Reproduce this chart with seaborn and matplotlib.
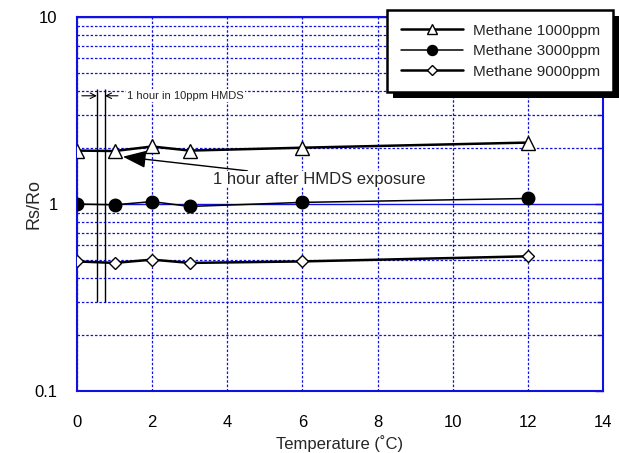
import numpy as np
import pandas as pd
import matplotlib
matplotlib.use("Agg")
import matplotlib.pyplot as plt
import matplotlib.ticker as mticker
from matplotlib.patches import Rectangle
import seaborn as sns

# data
temperature = [0, 1, 2, 3, 6, 12]
methane_1000 = [1.93, 1.92, 2.03, 1.93, 2.00, 2.13]
methane_3000 = [1.00, 0.99, 1.03, 0.97, 1.02, 1.07]
methane_9000 = [0.493, 0.484, 0.504, 0.484, 0.493, 0.525]
series_names = ["Methane 1000ppm", "Methane 3000ppm", "Methane 9000ppm"]
x_ticks = [0, 2, 4, 6, 8, 10, 12, 14]
y_ticks = [0.1, 1, 10]

sns.set_style("white")
plt.rcParams['font.family'] = ['Liberation Sans', 'DejaVu Sans']

BLUE = '#1010e0'

fig = plt.figure(figsize=(6.19, 4.53), dpi=100)
ax = fig.add_axes([0.1244, 0.1369, 0.974 - 0.1244, 0.9625 - 0.1369])

df = pd.DataFrame({'T': temperature, 'm1': methane_1000, 'm3': methane_3000, 'm9': methane_9000})

# (column, marker, face colour, line width, marker size)
styles = [
    ('m1', '^', 'white', 1.8, 9.5),
    ('m3', 'o', 'black', 1.1, 9),
    ('m9', 'D', 'white', 1.8, 6.5),
]
for (col, mk, mfc, lw, ms), name in zip(styles, series_names):
    sns.lineplot(data=df, x='T', y=col, ax=ax, color='black', lw=lw, marker=mk,
                 markersize=ms, markerfacecolor=mfc, markeredgecolor='black',
                 markeredgewidth=1.0, label=name, zorder=5)

ax.set_yscale('log')
ax.set_xlim(0, 14)
ax.set_ylim(0.1, 10)
ax.set_xticks(x_ticks)
ax.set_yticks(y_ticks)
ax.yaxis.set_major_formatter(mticker.FuncFormatter(lambda v, p: f'{v:g}'))
ax.yaxis.set_minor_locator(mticker.LogLocator(base=10, subs=np.arange(2, 10)))
ax.yaxis.set_minor_formatter(mticker.NullFormatter())

# grid
ax.grid(True, which='major', axis='x', color=BLUE, ls=(0, (2, 1.5)), lw=0.9)
ax.grid(True, which='minor', axis='y', color=BLUE, ls=(0, (2, 1.5)), lw=0.9)
ax.grid(True, which='major', axis='y', color=BLUE, ls='-', lw=1.0)
ax.set_axisbelow(True)
for sp in ax.spines.values():
    sp.set_color(BLUE)
    sp.set_linewidth(1.5)
ax.tick_params(which='both', direction='in', colors=BLUE, labelcolor='black',
               right=True, top=False, labelsize=12)
ax.tick_params(which='major', length=6, width=1)
ax.tick_params(which='minor', length=4, width=1)
ax.tick_params(axis='x', pad=17)
ax.tick_params(axis='y', pad=14)

ax.set_xlabel('Temperature (˚C)', fontsize=12, labelpad=4)
ax.set_ylabel('Rs/Ro', fontsize=13, labelpad=-6)

# HMDS exposure markers
ax.vlines([0.53, 0.74], 0.3, 4.14, color='black', lw=1.0, zorder=4)
ax.annotate('', xy=(0.53, 3.79), xytext=(0.13, 3.79),
            arrowprops=dict(arrowstyle='->', color='black', lw=0.8, shrinkA=0, shrinkB=0))
ax.annotate('', xy=(0.74, 3.79), xytext=(1.09, 3.79),
            arrowprops=dict(arrowstyle='->', color='black', lw=0.8, shrinkA=0, shrinkB=0))
ax.text(1.33, 3.79, '1 hour in 10ppm HMDS', fontsize=8, va='center', ha='left',
        bbox=dict(facecolor='white', edgecolor='none', pad=1))

ax.annotate('1 hour after HMDS exposure', xy=(1.22, 1.79), xytext=(3.62, 1.36),
            fontsize=12, va='center', ha='left',
            arrowprops=dict(arrowstyle='-|>,head_length=1.2,head_width=0.45', color='black',
                            lw=1.0, shrinkA=0, shrinkB=0),
            bbox=dict(facecolor='white', edgecolor='none', pad=0.5))

# legend with a hard black shadow
ax.get_legend().remove()
h, l = ax.get_legend_handles_labels()
leg = fig.legend(h, l, loc='upper left', bbox_to_anchor=(387 / 619, 1 - 10 / 453),
                 fontsize=11, frameon=True, fancybox=False, handlelength=4.1,
                 borderaxespad=0, labelspacing=0.42, handletextpad=0.6,
                 borderpad=0.9, framealpha=1, facecolor='white', edgecolor='black',
                 markerscale=0.8)
leg.get_frame().set_linewidth(1.8)
leg.set_zorder(9)

fig.canvas.draw()
bb = leg.get_window_extent().transformed(fig.transFigure.inverted())
shadow = Rectangle((bb.x0 + 6 / 619, bb.y0 - 6 / 453), bb.width, bb.height,
                   transform=fig.transFigure, facecolor='black', edgecolor='none', zorder=8)
fig.patches.append(shadow)

fig.savefig('out.png', dpi=100)
